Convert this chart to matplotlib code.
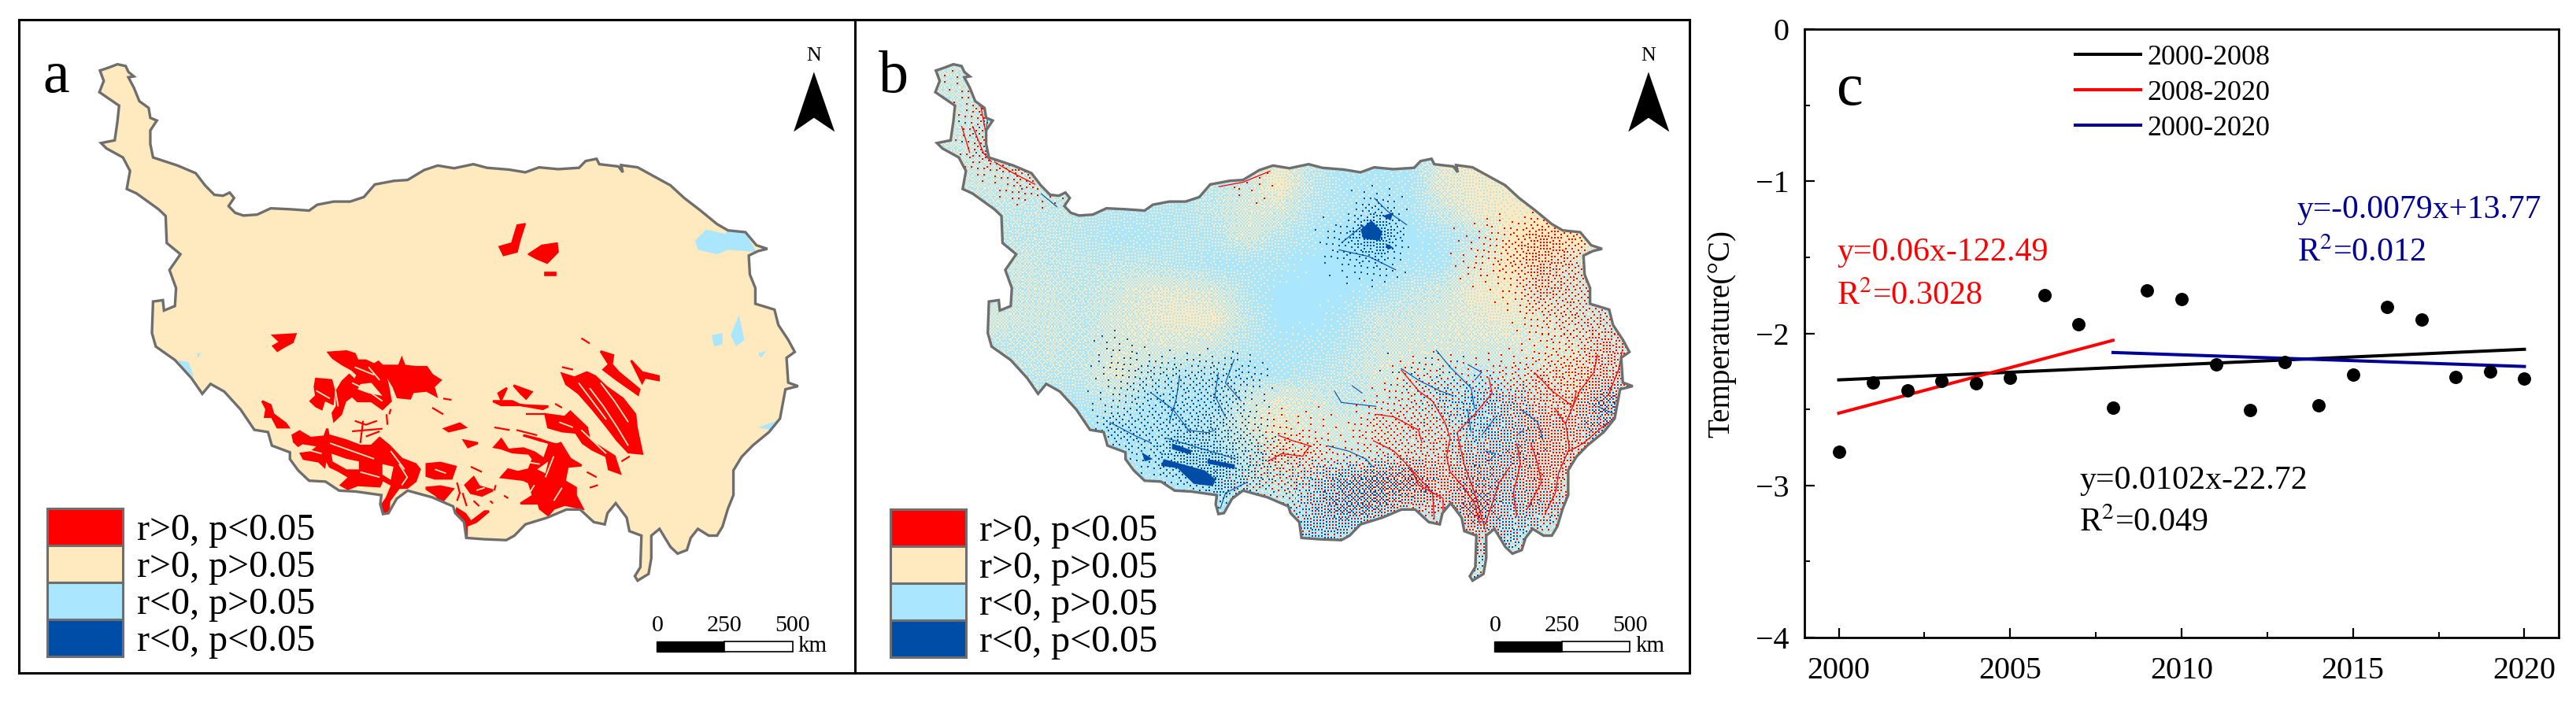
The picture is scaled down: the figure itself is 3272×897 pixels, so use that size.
import matplotlib
matplotlib.use("Agg")
import matplotlib.pyplot as plt
import numpy as np
from matplotlib.patches import Polygon, Rectangle

plt.rcParams['font.family'] = ['Liberation Serif', 'DejaVu Serif']
plt.rcParams['mathtext.fontset'] = 'stix'

W, H = 3273, 897
RED, CREAM, SKY, DARK, EDGE = '#ff0000', '#ffe9be', '#abe6ff', '#004da8', '#6e6e6e'
NAVY = '#000099'

# ---- panel c values
years = list(range(2000, 2021))
temps = [-2.777, -2.324, -2.375, -2.312, -2.33, -2.29, -1.747, -1.94, -2.49, -1.717, -1.776,
         -2.206, -2.505, -2.188, -2.475, -2.27, -1.827, -1.907, -2.286, -2.253, -2.30]
fit_black = ([2000, 2020], [-2.306, -2.105])
fit_red = ([2000, 2008], [-2.525, -2.046])
fit_blue = ([2008, 2020], [-2.126, -2.218])

legend_labels = ['r>0, p<0.05', 'r>0, p>0.05', 'r<0, p>0.05', 'r<0, p<0.05']
legend_colors = [RED, CREAM, SKY, DARK]

# ---- map outline
outline = [(183,157),(200,150),(215,143),(230,147),(235,160),(245,170),(235,172),(245,195),(255,225),(272,240),
 (275,262),(287,268),(275,290),(275,320),(280,350),(300,358),(325,368),(358,385),(375,412),(392,433),(408,435),
 (420,428),(428,440),(418,458),(430,473),(445,479),(470,477),(495,463),(530,465),(565,468),(580,455),(610,448),
 (640,448),(665,438),(685,410),(720,402),(745,400),(775,378),(800,368),(830,374),(865,365),(890,373),(930,377),
 (960,383),(985,372),(1020,376),(1058,373),(1070,358),(1090,353),(1095,365),(1130,370),(1138,383),(1135,367),
 (1165,372),(1195,392),(1225,412),(1250,440),(1280,468),(1310,498),(1330,512),(1362,516),(1382,545),(1402,553),
 (1385,558),(1368,568),(1370,610),(1380,640),(1380,675),(1415,688),(1422,722),(1440,755),(1452,782),(1437,795),
 (1440,850),(1458,858),(1435,865),(1425,930),(1405,960),(1375,990),(1355,1015),(1340,1045),(1340,1100),(1330,1130),
 (1320,1170),(1310,1190),(1295,1190),(1275,1175),(1262,1195),(1255,1222),(1238,1230),(1225,1215),(1205,1175),
 (1190,1190),(1190,1240),(1185,1275),(1165,1290),(1160,1280),(1170,1260),(1172,1190),(1150,1180),(1145,1150),
 (1125,1118),(1110,1140),(1105,1165),(1085,1160),(1060,1132),(1035,1132),(1000,1150),(960,1165),(940,1190),
 (925,1200),(885,1198),(852,1195),(848,1160),(832,1140),(828,1125),(790,1105),(745,1090),(725,1108),(710,1140),
 (700,1142),(695,1120),(697,1100),(650,1092),(620,1090),(595,1070),(565,1068),(545,1045),(530,1020),(530,1005),
 (497,990),(490,960),(465,955),(440,910),(410,870),(385,853),(370,875),(350,840),(320,800),(285,770),(278,740),
 (280,670),(298,667),(300,690),(320,680),(322,640),(310,600),(330,565),(305,540),(303,480),(290,465),(250,430),
 (232,420),(238,380),(225,350),(195,330),(185,318),(210,312),(215,270),(218,235),(200,220),(182,205),(190,180)]

# ---- panel a patches
a_red_north = [[(935,540),(945,500),(960,497),(950,535),(945,560),(920,568),(912,548)],
               [(965,565),(990,545),(1018,540),(1020,560),(1000,585),(980,575)],
               [(995,606),(1015,606),(1015,612),(995,612)]]
a_red = [[(335,85),(400,80),(430,90),(440,115),(470,115),(500,130),(515,120),(530,135),(590,135),(600,108),(610,135),
          (650,140),(690,140),(710,170),(740,190),(715,215),(725,250),(690,230),(640,235),(630,260),(585,255),(570,215),
          (545,170),(535,145),(550,210),(560,270),(530,300),(490,270),(440,270),(420,250),(395,270),(380,320),(355,345),
          (350,315),(365,290),(365,230),(385,195),(410,170),(430,190),(440,170),(420,150),(385,130),(350,105)],
         [(290,185),(345,190),(355,230),(350,280),(320,265),(310,300),(290,290),(270,270),(290,250),(285,215)],
         [(95,270),(125,285),(135,320),(180,355),(190,370),(150,370),(130,330),(105,330),(110,300)],
         [(205,400),(230,385),(270,410),(320,405),(330,375),(335,400),(400,420),(450,440),(490,440),(520,410),(555,440),
          (600,490),(650,510),(665,530),(650,575),(620,600),(590,600),(555,650),(550,700),(535,695),(525,670),(545,640),
          (565,590),(530,570),(520,595),(440,590),(405,605),(380,590),(410,560),(370,535),(340,520),(325,490),(320,520),
          (300,500),(245,490),(235,470),(270,465),(300,440),(240,430),(225,440),(210,425)],
         [(690,510),(740,505),(795,520),(780,565),(720,565),(690,555)],
         [(690,600),(740,595),(785,605),(745,655),(725,630),(690,605)],
         [(800,680),(830,700),(850,730),(900,690),(915,690),(870,730),(835,745),(835,785),(825,770),(830,730),(795,700)],
         [(830,590),(860,560),(880,595),(930,610),(890,630),(850,620)],
         [(1030,660),(1075,630),(1060,580),(1040,570),(960,560),(985,530),(1020,540),(1060,530),(1075,490),(1060,470),
          (1000,465),(960,450),(935,445),(960,415),(985,455),(1040,450),(1080,465),(1115,490),(1135,430),(1100,415),
          (1040,400),(1100,420),(1160,435),(1175,430),(1210,490),(1250,515),(1200,520),(1190,575),(1230,600),(1230,630),
          (1255,680),(1190,665),(1150,680),(1130,705),(1100,680),(1095,660)],
         [(1180,165),(1225,180),(1270,160),(1300,175),(1340,215),(1400,260),(1445,320),(1450,370),(1470,470),(1420,465),
          (1380,420),(1340,365),(1290,300),(1240,240),(1195,205)],
         [(1120,320),(1190,330),(1210,310),(1270,370),(1280,420),(1370,480),(1390,545),(1350,530),(1340,480),(1290,455),
          (1255,430),(1230,390),(1180,385),(1130,370)],
         [(1320,80),(1365,95),(1360,130),(1385,160),(1460,225),(1455,245),(1380,190),(1330,150),(1350,130)],
         [(1430,115),(1470,160),(1530,175),(1530,190),(1480,180),(1470,200)],
         [(930,270),(1000,270),(1030,285),(1130,290),(1110,300),(1030,285),(960,285)],
         [(1005,210),(1070,235),(1050,260),(1030,240)],
         [(950,240),(980,220),(960,265)],
         [(755,375),(810,355),(830,370),(770,385)],
         [(825,420),(875,430),(840,445)],
         [(135,20),(215,15),(205,45),(170,65),(150,78),(135,60),(160,45)]]
a_holes = [[(450,205),(490,200),(530,250),(480,240),(440,225)],
           [(345,470),(400,490),(445,500),(445,530),(400,530),(350,500)],
           [(530,510),(570,520),(560,570),(530,550)],
           [(1090,530),(1130,500),(1120,545)]]
# thin cream gaps cut into the red, and thin red branches out of it
a_gaps = [[(1280,220),(1330,290),(1380,370),(1420,440)], [(1320,200),(1370,270),(1420,350)],
          [(1240,200),(1290,270),(1340,340)], [(1250,380),(1300,430),(1340,470)], [(1170,350),(1220,370)],
          [(360,230),(370,290)], [(290,230),(340,260)], [(420,200),(470,225),(530,270)], [(430,140),(500,170)],
          [(340,430),(420,460),(500,490)], [(590,510),(620,560),(600,590)], [(240,450),(310,470)], [(450,540),(520,560)],
          [(560,460),(610,530)], [(1080,590),(1050,640)], [(1150,480),(1120,560)], [(1180,600),(1150,650)],
          [(1040,500),(1100,510)], [(720,530),(760,545)], [(870,610),(900,600)], [(480,140),(520,190)]]
a_branches = [[(430,345),(470,360),(510,345)], [(460,345),(450,430)], [(420,385),(530,375)], [(470,405),(520,385)],
              [(545,320),(548,360)], [(555,320),(560,300)], [(710,295),(750,320)], [(750,260),(780,265)],
              [(850,520),(890,540)], [(860,650),(880,670)], [(920,650),(930,660)], [(970,630),(985,640)],
              [(1015,380),(1090,400)], [(1050,320),(1120,320)], [(1155,280),(1180,295)], [(1250,30),(1280,50)],
              [(1425,480),(1395,500)], [(1280,600),(1310,590)], [(1270,540),(1305,560)], [(935,370),(990,380)],
              [(800,580),(810,620),(800,650)], [(820,620),(835,670)], [(940,590),(935,610)], [(1180,140),(1220,150)]]
a_sky = [[(1270,535),(1290,510),(1325,520),(1330,510),(1362,516),(1382,560),(1330,555),(1310,565),(1275,555)],
         [(1335,745),(1350,700),(1360,755),(1345,770)],
         [(1300,745),(1320,740),(1320,765),(1305,770)],
         [(1385,785),(1400,780),(1390,795)],
         [(325,800),(345,805),(355,838),(340,825)],
         [(1385,950),(1425,932),(1410,955)],
         [(360,785),(368,785),(362,795)]]

# ---- panel b: coarse grids, one character a grid cell
# share of cream against sky blue (0 = all blue, 9 = all cream)
b_mix = ["4444444444444444444444", "4444444444444444444444", "4444444444444444444444",
         "4444433334631116777777", "4444333334831116777777", "3333322235521114788888",
         "3333211225210001388877", "4443333211100011686555", "4444346652000134785533",
         "5544356773001445676544", "3334355542112455556644", "3333363221123554345644",
         "2222231114653443234533", "1111111125755544234433", "1111111113554444334444",
         "1111111113433444334444", "1111111113322333333333", "3333333333322333333444",
         "4444444444444444444444", "4444444444444444444444"]
# how much of a cell is red
b_red = ["1000000000000000000000", "0300000000000000000000", "0200000000000000000000",
         "0340000000000000000000", "0022000001000000000000", "0000000000000000000000",
         "0000000000000000125300", "0000000000000000125300", "0000000000000000014310",
         "0000000000000000002331", "0000000000000000001253", "0000000000000011123453",
         "0000000000000122134442", "0000000000110333125530", "0000000000431234336500",
         "0000000001222355536300", "0000000000023344624300", "0000000000011000511000",
         "0000000000000000100000", "0000000000000000000000"]
# how much of a cell is dark blue
b_blue = ["0000000000000000000000", "0000000000000000000000", "0100000000000000000000",
          "0000000000000000000000", "0000000000000000000000", "0000000000000300000000",
          "0000000000002700000000", "0000000000001200000000", "0000000000000000000000",
          "0000000000000000000000", "0000010000000000000000", "0000012222000011000000",
          "0000012231000002320040", "0000032332000000331040", "0000012553000000230000",
          "0000000263125640220000", "0000000010035500332000", "0000000000043000041000",
          "0000000000000000320000", "0000000000000000000000"]
# threshold tile, so the classes come out as single grains
grain = [[ 3, 51, 14, 62,  1, 49, 13, 61],
         [35, 19, 46, 30, 33, 17, 45, 29],
         [11, 59,  6, 54,  9, 57,  5, 53],
         [43, 27, 38, 22, 41, 25, 37, 21],
         [ 2, 50, 15, 63,  0, 48, 12, 60],
         [34, 18, 47, 31, 32, 16, 44, 28],
         [10, 58,  7, 55,  8, 56,  4, 52],
         [42, 26, 39, 23, 40, 24, 36, 20]]
b_dark = [[(960,510),(980,490),(1000,515),(995,535),(965,530)], [(1000,480),(1020,472),(1015,490)],
          [(1005,540),(1020,550),(1010,555)], [(600,1020),(645,1035),(675,1045),(695,1065),(690,1080),(655,1075),(625,1040),(595,1035)],
          [(560,1005),(580,1020),(565,1025)], [(615,985),(650,1000),(650,1010),(615,998)],
          [(680,1020),(730,1032),(730,1042),(680,1030)]]
b_red_strokes = [[(850,90),(900,170),(940,210),(975,290),(990,350),(980,420),(990,480),(1030,540),(1060,600),(1075,680)],
                 [(1100,120),(1110,180),(1060,260),(1010,330),(1030,450),(1060,560),(1090,700)],
                 [(1160,460),(1130,520),(1110,600),(1090,680)],
                 [(1290,240),(1320,300),(1330,390),(1300,480),(1290,560),(1260,640)],
                 [(1410,30),(1400,100),(1360,170),(1320,290)],
                 [(1480,20),(1470,90),(1440,190)],
                 [(1230,100),(1280,170),(1340,230),(1350,170)],
                 [(1220,370),(1240,450),(1250,520),(1210,620)],
                 [(780,260),(830,270),(900,320),(910,370)],
                 [(770,360),(830,400),(880,470),(940,560),(945,660)],
                 [(500,340),(540,360),(590,380),(570,420),(510,410),(470,440)],
                 [(880,470),(900,530),(970,580),(970,640)],
                 [(1180,370),(1190,450),(1170,560),(1180,650)],
                 [(1330,400),(1370,370),(1440,290)]]
b_blue_strokes = [[(220,110),(210,200),(190,290)], [(375,50),(350,140),(395,210)], [(330,100),(320,190),(350,270)],
                  [(140,180),(200,240),(250,330)], [(240,320),(300,330),(320,320)], [(180,350),(280,390),(380,430)],
                  [(660,170),(680,215),(780,230)], [(710,150),(740,180)], [(640,380),(700,400),(750,430),(770,460)],
                  [(850,85),(900,130),(960,170),(1000,190)], [(950,15),(990,80),(1050,160),(1060,240)],
                  [(1040,70),(1080,100),(1060,130)], [(20,290),(90,340),(140,370)], [(335,620),(350,560),(410,520)],
                  [(1190,240),(1240,290),(1255,360)], [(1180,340),(1200,320)], [(1410,230),(1460,260)],
                  [(1090,400),(1120,410),(1100,440)], [(1040,240),(1050,330)], [(1120,270),(1080,340)]]
b_nw_red = [[(255,360),(290,385),(330,410)], [(215,280),(235,340),(250,360)], [(195,280),(210,340)],
            [(230,235),(240,300)], [(665,415),(710,405),(760,380)]]
b_nw_blue = [[(245,240),(240,290)], [(340,430),(370,460)], [(885,555),(940,570),(990,600)], [(930,500),(890,540)],
             [(950,440),(975,470),(1010,500)]]

arrow_pts = [(1487,160),(1450,293),(1487,262),(1525,293)]


def z4(pts):
    # crop of the south of panel a
    return [(431.5 + x * 0.5046, 734 + y * 0.5827) for x, y in pts]


def z5(pts):
    # crop of the south of panel b
    return [(488.1 + x * 0.6422, 769 + y * 0.5827) for x, y in pts]


def zb(pts):
    # panel b crop sits 35 units left of panel a
    return [(x + 35, y) for x, y in pts]


def px(t):
    return t * 0.72


def grid(rows):
    return np.array([[int(c) for c in row] for row in rows], dtype=float)


def spread(table, xs, ys):
    # widen a coarse grid to the raster of panel b
    cols = np.array([np.interp(xs, np.arange(table.shape[1]), r) for r in table])
    return np.array([np.interp(ys, np.arange(table.shape[0]), c) for c in cols.T]).T


def base_map(ax, dx_leg, leg_y, label, scale_dx):
    ax.set_xlim(35, 1562)
    ax.set_ylim(1495, 44)
    ax.set_xticks([])
    ax.set_yticks([])
    for s in ax.spines.values():
        s.set_linewidth(2.2)
    ax.text(78, 205, label, fontsize=px(76), ha='left', va='baseline')
    ax.add_patch(Polygon(arrow_pts, closed=True, fc='black', ec='none'))
    ax.text(1487, 135, 'N', fontsize=px(26), ha='center', va='baseline')
    for i, (lab, col) in enumerate(zip(legend_labels, legend_colors)):
        y0 = leg_y + i * 82
        ax.add_patch(Rectangle((87 + dx_leg, y0), 138, 82, fc=col, ec=EDGE, lw=2.2))
        ax.text(250 + dx_leg, y0 + 70, lab, fontsize=px(48), ha='left', va='baseline')
    x0 = 1200 + scale_dx
    ax.add_patch(Rectangle((x0, 1425), 124, 23, fc='black', ec='black', lw=1))
    ax.add_patch(Rectangle((x0 + 124, 1425), 124, 23, fc='white', ec='black', lw=1.2))
    for off, t in zip([2, 124, 248], ['0', '250', '500']):
        ax.text(x0 + off, 1403, t, fontsize=px(30), ha='center', va='baseline')
    ax.text(x0 + 258, 1448, 'km', fontsize=px(29), ha='left', va='baseline')


def draw_lines(ax, lines, color, lw, clip, zorder=5):
    for line in lines:
        xs, ys = zip(*line)
        ax.plot(xs, ys, color=color, lw=lw, zorder=zorder, clip_path=clip, solid_capstyle='butt')


fig = plt.figure(figsize=(W / 100, H / 100), dpi=100)


def axes_px(l, t, r, b):
    return fig.add_axes([l / W, 1 - b / H, (r - l) / W, (b - t) / H])


# panel a
ax_a = axes_px(24, 25, 1086, 855)
base_map(ax_a, 0, 1130, 'a', 0)
shape = Polygon(outline, closed=True, fc=CREAM, ec='none')
ax_a.add_patch(shape)
for poly in a_sky:
    ax_a.add_patch(Polygon(poly, fc=SKY, ec='none', clip_path=shape))
for poly in a_red_north:
    ax_a.add_patch(Polygon(poly, fc=RED, ec=RED, lw=1.2, clip_path=shape))
for poly in a_red:
    ax_a.add_patch(Polygon(z4(poly), fc=RED, ec=RED, lw=2.0, clip_path=shape))
for poly in a_holes:
    ax_a.add_patch(Polygon(z4(poly), fc=CREAM, ec='none', clip_path=shape))
draw_lines(ax_a, [z4(l) for l in a_gaps], CREAM, 1.3, shape)
draw_lines(ax_a, [z4(l) for l in a_branches], RED, 1.6, shape)
ax_a.add_patch(Polygon(outline, closed=True, fc='none', ec=EDGE, lw=2.4, zorder=7))

# panel b
ax_b = axes_px(1086, 25, 2146, 855)
base_map(ax_b, 13, 1132, 'b', 5)
shape_b = Polygon(outline, closed=True, fc='none', ec='none')
ax_b.add_patch(shape_b)
rows, cols = 343, 459
col_pos = np.linspace(-0.5, 21.5, cols)
row_pos = np.linspace(-0.5, 19.5, rows)
mix = spread(grid(b_mix), col_pos, row_pos) / 9
share_red = spread(grid(b_red), col_pos, row_pos) * 0.045
share_blue = spread(grid(b_blue), col_pos, row_pos) * 0.05
tile = (np.array(grain) + 0.5) / 64
jj, ii = np.meshgrid(np.arange(cols), np.arange(rows))
noise = tile[(ii + 3 * (jj // 8)) % 8, (jj + 5 * (ii // 8)) % 8]
raster = np.zeros((rows, cols, 3))
palette = {k: np.array(matplotlib.colors.to_rgb(c)) for k, c in zip('rcsd', [RED, CREAM, SKY, DARK])}
raster[:] = palette['s']
raster[noise < mix] = palette['c']
noise2 = 1 - noise
raster[noise2 < share_red] = palette['r']
raster[(noise2 >= share_red) & (noise2 < share_red + share_blue)] = palette['d']
im = ax_b.imshow(raster, extent=(180, 1500, 1340, 140), aspect='auto', interpolation='nearest', zorder=1)
im.set_clip_path(shape_b)
ax_b.set_xlim(35, 1562)
ax_b.set_ylim(1495, 44)
draw_lines(ax_b, [z5(l) for l in b_red_strokes], RED, 0.9, shape_b)
draw_lines(ax_b, [z5(l) for l in b_blue_strokes], DARK, 0.8, shape_b)
draw_lines(ax_b, [zb(l) for l in b_nw_red], RED, 0.9, shape_b)
draw_lines(ax_b, [zb(l) for l in b_nw_blue], DARK, 0.8, shape_b)
for poly in b_dark:
    ax_b.add_patch(Polygon(poly, fc=DARK, ec='none', zorder=6, clip_path=shape_b))
ax_b.add_patch(Polygon(outline, closed=True, fc='none', ec=EDGE, lw=2.4, zorder=7))

# panel c
ax_c = axes_px(2292, 37, 3250, 810)
ax_c.plot(years, temps, 'o', color='black', ms=12.2, mew=0, zorder=3)
ax_c.plot(*fit_black, color='black', lw=2.9, label='2000-2008')
ax_c.plot(*fit_red, color=RED, lw=2.9, label='2008-2020')
ax_c.plot(*fit_blue, color=NAVY, lw=2.9, label='2000-2020')
ax_c.set_xlim(1999, 2021)
ax_c.set_ylim(-4, 0)
ax_c.set_xticks([2000, 2005, 2010, 2015, 2020])
ax_c.set_xticks([2002.5, 2007.5, 2012.5, 2017.5], minor=True)
ax_c.set_yticks([-4, -3, -2, -1, 0])
ax_c.set_yticks([-3.5, -2.5, -1.5, -0.5], minor=True)
ax_c.tick_params(which='major', direction='in', length=9, width=1.6, labelsize=px(40), pad=14)
ax_c.tick_params(axis='x', which='major', pad=17)
ax_c.tick_params(which='minor', direction='in', length=5, width=1.4)
for s in ax_c.spines.values():
    s.set_linewidth(2.0)
ax_c.set_ylabel('Temperature(°C)', fontsize=px(39), labelpad=18)
ax_c.legend(loc='upper left', bbox_to_anchor=(0.359, 0.975), frameon=False, fontsize=px(36), borderpad=0,
            borderaxespad=0, labelspacing=0.33, handlelength=2.3, handletextpad=0.25)
ax_c.text(2000.3, -0.40, 'c', fontsize=px(76), ha='center', va='center')
ax_c.text(1999.95, -1.47, 'y=0.06x-122.49', color=RED, fontsize=px(42), va='center')
ax_c.text(1999.95, -1.755, 'R$^{2}$=0.3028', color=RED, fontsize=px(42), va='center')
ax_c.text(2013.37, -1.19, 'y=-0.0079x+13.77', color=NAVY, fontsize=px(41.5), va='center')
ax_c.text(2013.37, -1.474, 'R$^{2}$=0.012', color=NAVY, fontsize=px(42), va='center')
ax_c.text(2007.02, -2.97, 'y=0.0102x-22.72', color='black', fontsize=px(42), va='center')
ax_c.text(2007.02, -3.25, 'R$^{2}$=0.049', color='black', fontsize=px(42), va='center')

fig.savefig('out.png', dpi=100)
